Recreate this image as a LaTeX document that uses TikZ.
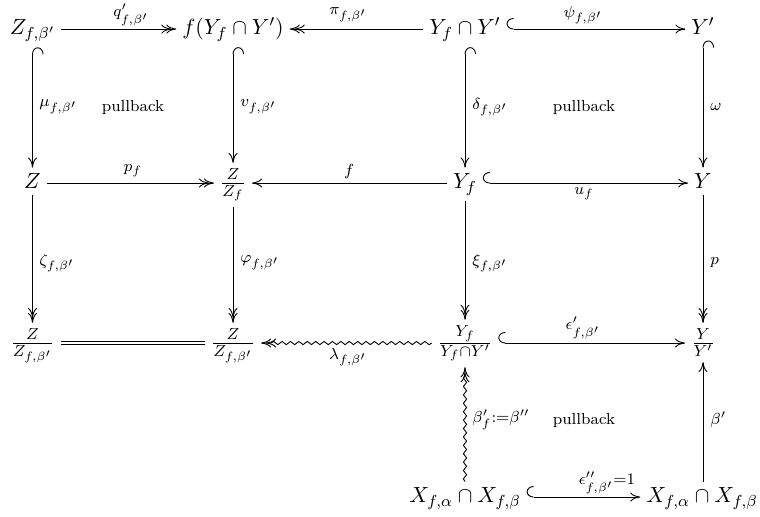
\documentclass[tikz,border=0pt]{standalone}
\usetikzlibrary{arrows.meta,decorations.pathmorphing}
\begin{document}
\begin{tikzpicture}[x=0.5pt,y=-0.5pt,
  xt/.tip={Computer Modern Rightarrow[length=5pt,width=4.5pt]},
  xtt/.tip={Computer Modern Rightarrow[length=5pt,width=4.5pt,sep=-2.5pt]Computer Modern Rightarrow[length=5pt,width=4.5pt]},
  hk/.tip={Hooks[right,length=3.5pt,width=11pt]},
  obj/.style={anchor=base,inner sep=3pt,outer sep=0pt,font=\fontsize{10.95}{13}\selectfont},
  lab/.style={inner sep=0pt,font=\fontsize{10.95}{13}\selectfont},
  labr/.style={lab,anchor=west},
  pb/.style={inner sep=0pt,font=\fontsize{8}{9.6}\selectfont},
  ln/.style={line width=0.45pt},
  mapto/.style={ln,-xt},
  sur/.style={ln,-xtt},
  inj/.style={ln,hk-xt},
  wav/.style={ln,-xtt,decorate,decoration={snake,amplitude=0.8pt,segment length=4.2pt,post length=3pt}},
  eqq/.style={line width=0.45pt,double distance=1.3pt},
]
\def\ax{2.74pt}
\useasboundingbox (0,0) rectangle (760,516);
% row 1
\node[obj] (a1) at (32.5,34.5) {$Z_{f,\beta'}$};
\node[obj] (a2) at (233,34.5) {$f(Y_f\cap Y')$};
\node[obj] (a3) at (465,34.5) {$Y_f\cap Y'$};
\node[obj] (a4) at (703,34.5) {$Y'$};
% row 2
\node[obj] (b1) at (32.5,188.5) {$Z$};
\node[obj] (b2) at (233,188.5) {$\frac{Z}{Z_f}$};
\node[obj] (b3) at (465,188.5) {$Y_f$};
\node[obj] (b4) at (703,188.5) {$Y$};
% row 3
\node[obj] (c1) at (32.5,348.5) {$\frac{Z}{Z_{f,\beta'}}$};
\node[obj] (c2) at (233,348.5) {$\frac{Z}{Z_{f,\beta'}}$};
\node[obj] (c3) at (465,348.5) {$\frac{Y_f}{Y_f\cap Y'}$};
\node[obj] (c4) at (703,348.5) {$\frac{Y}{Y'}$};
% row 4
\node[obj] (d3) at (465,502.5) {$X_{f,\alpha}\cap X_{f,\beta}$};
\node[obj] (d4) at (702,502.5) {$X_{f,\alpha}\cap X_{f,\beta}$};

% horizontal arrows
\draw[sur] ([yshift=\ax]a1.base east) -- ([yshift=\ax]a2.base west);
\draw[sur] ([yshift=\ax]a3.base west) -- ([yshift=\ax]a2.base east);
\draw[inj] ([yshift=\ax]a3.base east) -- ([yshift=\ax]a4.base west);
\draw[sur] ([yshift=\ax]b1.base east) -- ([yshift=\ax]b2.base west);
\draw[mapto] ([yshift=\ax]b3.base west) -- ([yshift=\ax]b2.base east);
\draw[inj] ([yshift=\ax]b3.base east) -- ([yshift=\ax]b4.base west);
\draw[eqq] ([yshift=\ax]c1.base east) -- ([yshift=\ax]c2.base west);
\draw[wav] ([yshift=\ax]c3.base west) -- ([yshift=\ax]c2.base east);
\draw[inj] ([yshift=\ax]c3.base east) -- ([yshift=\ax]c4.base west);
\draw[inj] ([yshift=\ax]d3.base east) -- ([yshift=\ax]d4.base west);

% vertical arrows
\draw[inj] (a1.south) -- (b1.north);
\draw[inj] (a2.south) -- (b2.north);
\draw[inj] (a3.south) -- (b3.north);
\draw[inj] (a4.south) -- (b4.north);
\draw[sur] (b1.south) -- (c1.north);
\draw[sur] (b2.south) -- (c2.north);
\draw[sur] (b3.south) -- (c3.north);
\draw[sur] (b4.south) -- (c4.north);
\draw[wav] (d3.north) -- (c3.south);
\draw[mapto] (d4.north -| c4.south) -- (c4.south);

% labels
\node[lab] at (131,15) {$\scriptstyle q'_{f,\beta'}$};
\node[lab] at (348,15) {$\scriptstyle \pi_{f,\beta'}$};
\node[lab] at (583,15) {$\scriptstyle \psi_{f,\beta'}$};
\node[lab] at (133,171) {$\scriptstyle p_f$};
\node[lab] at (349,171) {$\scriptstyle f$};
\node[lab] at (584,194) {$\scriptstyle u_f$};
\node[lab] at (348,357) {$\scriptstyle \lambda_{f,\beta'}$};
\node[lab] at (583,328) {$\scriptstyle \epsilon'_{f,\beta'}$};
\node[lab] at (607,483) {$\scriptstyle \epsilon''_{f,\beta'}=1$};
\node[labr] at (39,107) {$\scriptstyle \mu_{f,\beta'}$};
\node[labr] at (240,107) {$\scriptstyle v_{f,\beta'}$};
\node[labr] at (472,107) {$\scriptstyle \delta_{f,\beta'}$};
\node[labr] at (710,107) {$\scriptstyle \omega$};
\node[labr] at (39,263) {$\scriptstyle \zeta_{f,\beta'}$};
\node[labr] at (240,263) {$\scriptstyle \varphi_{f,\beta'}$};
\node[labr] at (472,263) {$\scriptstyle \xi_{f,\beta'}$};
\node[labr] at (710,263) {$\scriptstyle p$};
\node[labr] at (472,420) {$\scriptstyle \beta'_f:=\beta''$};
\node[labr] at (710,420) {$\scriptstyle \beta'$};
\node[pb] at (133,107) {pullback};
\node[pb] at (584,107) {pullback};
\node[pb] at (584,420) {pullback};
\end{tikzpicture}
\end{document}
